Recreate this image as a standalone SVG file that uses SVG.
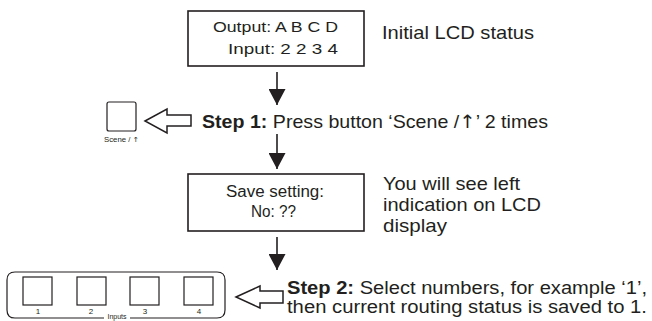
<svg xmlns="http://www.w3.org/2000/svg" width="652" height="321" viewBox="0 0 652 321">
<style>
.box{fill:#fff;stroke:#231f20;stroke-width:1.6}
.btn{fill:#fff;stroke:#231f20;stroke-width:1.2}
.t{font-family:"Liberation Sans",Arial,sans-serif;fill:#231f20}
.b{font-weight:bold}
.ar{font-family:"DejaVu Sans",sans-serif}
.ln{stroke:#231f20;stroke-width:1.6;fill:none}
.hol{fill:#fff;stroke:#231f20;stroke-width:1.5;stroke-linejoin:miter}
</style>
<defs>
<marker id="ah" viewBox="0 0 16 17" refX="16" refY="8.5" markerWidth="16" markerHeight="17" markerUnits="userSpaceOnUse" orient="auto">
<path d="M0,0 L16,8.5 L0,17 Z" fill="#231f20"/>
</marker>
</defs>
<rect width="652" height="321" fill="#fff"/>
<g id="lcd-initial">
<rect class="box" x="188" y="11" width="176" height="55"/>
<text class="t" x="213" y="32" font-size="15.5" textLength="125" lengthAdjust="spacingAndGlyphs">Output: A B C D</text>
<text class="t" x="228" y="54" font-size="15.5" textLength="110" lengthAdjust="spacingAndGlyphs">Input: 2 2 3 4</text>
</g>
<text class="t" x="382" y="39" font-size="19" textLength="152" lengthAdjust="spacingAndGlyphs">Initial LCD status</text>
<g id="scene-button">
<rect class="btn" x="107" y="102" width="29" height="29" rx="2"/>
<text class="t" x="104" y="142" font-size="7" textLength="35" lengthAdjust="spacingAndGlyphs">Scene / <tspan class="ar">↑</tspan></text>
</g>
<g id="step1">
<text class="t" x="202" y="128" font-size="18.5" textLength="346" lengthAdjust="spacingAndGlyphs"><tspan class="b">Step 1:</tspan> Press button ‘Scene /<tspan class="ar">↑</tspan>’ 2 times</text>
</g>
<g id="lcd-save">
<rect class="box" x="188" y="174" width="176" height="57"/>
<text class="t" x="226" y="197" font-size="16" textLength="98" lengthAdjust="spacingAndGlyphs">Save setting:</text>
<text class="t" x="251" y="217" font-size="16" textLength="45" lengthAdjust="spacingAndGlyphs">No: ??</text>
</g>
<g id="note">
<text class="t" x="383" y="190" font-size="18.5" textLength="137" lengthAdjust="spacingAndGlyphs">You will see left</text>
<text class="t" x="383" y="211" font-size="18.5" textLength="158" lengthAdjust="spacingAndGlyphs">indication on LCD</text>
<text class="t" x="383" y="232" font-size="18.5" textLength="64" lengthAdjust="spacingAndGlyphs">display</text>
</g>
<g id="inputs-panel">
<path class="btn" d="M104,318 H15 Q7,318 7,310 V280 Q7,272 15,272 H217 Q225,272 225,280 V310 Q225,318 217,318 H130"/>
<rect class="btn" x="23" y="277" width="29" height="28"/>
<rect class="btn" x="77" y="277" width="29" height="28"/>
<rect class="btn" x="130" y="277" width="29" height="28"/>
<rect class="btn" x="184" y="277" width="29" height="28"/>
<g class="t" font-size="8" text-anchor="middle">
<text x="38" y="314">1</text>
<text x="91" y="314">2</text>
<text x="145" y="314">3</text>
<text x="199" y="314">4</text>
<text x="117" y="319" font-size="7">Inputs</text>
</g>
</g>
<g id="step2">
<text class="t" x="287" y="294" font-size="17.5" textLength="360" lengthAdjust="spacingAndGlyphs"><tspan class="b">Step 2:</tspan> Select numbers, for example ‘1’,</text>
<text class="t" x="287" y="313" font-size="17.5" textLength="360" lengthAdjust="spacingAndGlyphs">then current routing status is saved to 1.</text>
</g>
<g id="connectors">
<line class="ln" x1="277" y1="72" x2="277" y2="105" marker-end="url(#ah)"/>
<line class="ln" x1="277" y1="134" x2="277" y2="169" marker-end="url(#ah)"/>
<line class="ln" x1="277" y1="237" x2="277" y2="270" marker-end="url(#ah)"/>
<polygon class="hol" points="145,121 167,109 167,115 191,115 191,126 167,126 167,133"/>
<polygon class="hol" points="236,297 260,286 260,291 283,291 283,303 260,303 260,308"/>
</g>
</svg>
